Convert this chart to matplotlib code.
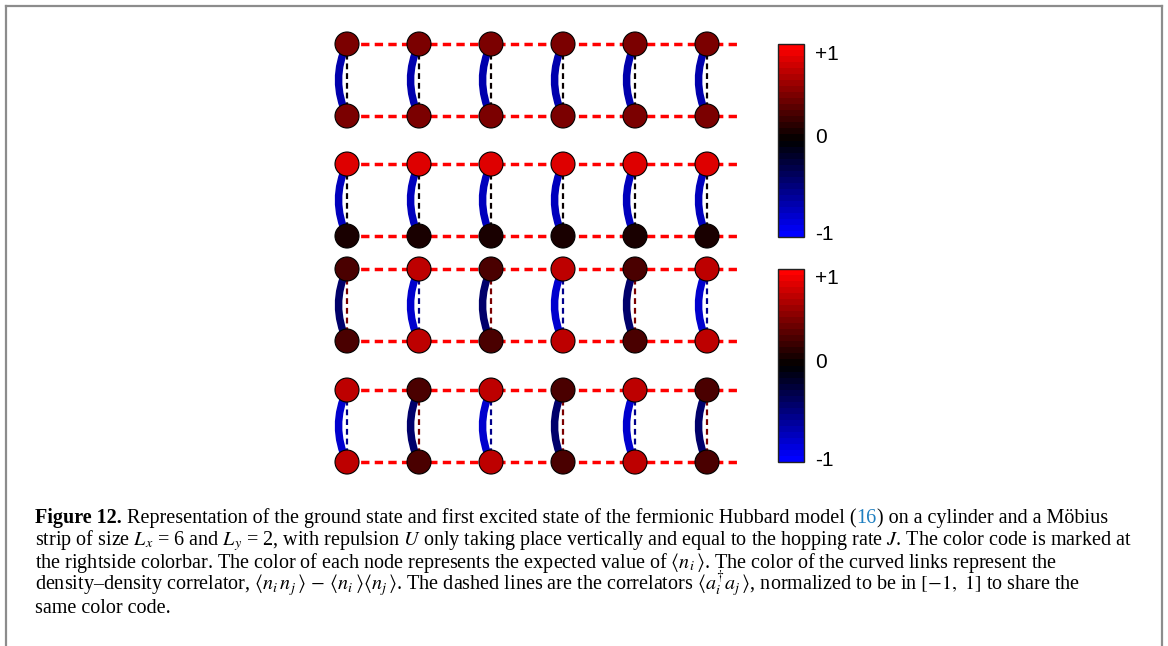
import numpy as np
import matplotlib
matplotlib.use('Agg')
import matplotlib.pyplot as plt
from matplotlib.colors import LinearSegmentedColormap, Normalize
from matplotlib.patches import Circle, PathPatch
from matplotlib.path import Path
from matplotlib.lines import Line2D
from matplotlib.cm import ScalarMappable
import matplotlib.transforms as mtransforms

plt.rcParams['mathtext.fontset'] = 'stix'
plt.rcParams['lines.scale_dashes'] = False

# ---------------- data ----------------
columns = [0, 1, 2, 3, 4, 5]

# panel 1: cylinder, ground state
p1_top = [0.48, 0.48, 0.48, 0.48, 0.48, 0.48]
p1_bottom = [0.48, 0.48, 0.48, 0.48, 0.48, 0.48]
p1_density = [-0.67, -0.67, -0.67, -0.67, -0.67, -0.67]
p1_hop_vert = [0.0, 0.0, 0.0, 0.0, 0.0, 0.0]
p1_hop_horiz = [1.0, 1.0]

# panel 2: cylinder, first excited state
p2_top = [0.86, 0.86, 0.86, 0.86, 0.86, 0.86]
p2_bottom = [0.1, 0.1, 0.1, 0.1, 0.1, 0.1]
p2_density = [-0.69, -0.69, -0.69, -0.69, -0.69, -0.69]
p2_hop_vert = [0.0, 0.0, 0.0, 0.0, 0.0, 0.0]
p2_hop_horiz = [1.0, 1.0]

# panel 3: Moebius, ground state
p3_top = [0.27, 0.72, 0.27, 0.72, 0.27, 0.72]
p3_bottom = [0.27, 0.72, 0.27, 0.72, 0.27, 0.72]
p3_density = [-0.4, -0.8, -0.4, -0.8, -0.4, -0.8]
p3_hop_vert = [0.49, -0.56, 0.49, -0.56, 0.49, -0.56]
p3_hop_horiz = [1.0, 1.0]

# panel 4: Moebius, first excited state
p4_top = [0.72, 0.27, 0.72, 0.27, 0.72, 0.27]
p4_bottom = [0.72, 0.27, 0.72, 0.27, 0.72, 0.27]
p4_density = [-0.8, -0.4, -0.8, -0.4, -0.8, -0.4]
p4_hop_vert = [-0.56, 0.49, -0.56, 0.49, -0.56, 0.49]
p4_hop_horiz = [1.0, 1.0]

cbar_ticks = [-1, 0, 1]
cbar_ticklabels = ['-1', '0', '+1']

# ---------------- layout ----------------
W, H, DPI = 1168, 646, 100
UNIT = 72.0            # pixels per lattice spacing
X0, Y0 = 347.0, 44.0   # pixel position of first node
panel_offsets = [0.0, 1.667, 3.125, 4.806]
panels = [
    (p1_top, p1_bottom, p1_density, p1_hop_vert, p1_hop_horiz),
    (p2_top, p2_bottom, p2_density, p2_hop_vert, p2_hop_horiz),
    (p3_top, p3_bottom, p3_density, p3_hop_vert, p3_hop_horiz),
    (p4_top, p4_bottom, p4_density, p4_hop_vert, p4_hop_horiz),
]

cmap = LinearSegmentedColormap.from_list('bkr', [(0, 0, 1), (0, 0, 0), (1, 0, 0)], N=32)
norm = Normalize(-1, 1)

fig = plt.figure(figsize=(W / DPI, H / DPI), dpi=DPI)
ax = fig.add_axes([0, 0, 1, 1])
ax.set_xlim(-X0 / UNIT, (W - X0) / UNIT)
ax.set_ylim((H - Y0) / UNIT, -Y0 / UNIT)
ax.set_aspect('equal')
ax.axis('off')

R = 12.0 / UNIT
SAG = 8.5 / UNIT
HEXT = 0.44

for off, (top, bottom, dens, hv, hh) in zip(panel_offsets, panels):
    yt, yb = off, off + 1.0
    # horizontal hopping links (dashed)
    for yrow, val in zip([yt, yb], hh):
        ax.plot([columns[0], columns[-1] + HEXT], [yrow, yrow], color=cmap(norm(val)),
                lw=2.5, dashes=(6.0, 3.8), zorder=1, solid_capstyle='butt', dash_capstyle='butt')
    for c in columns:
        # curved density-density link
        verts = [(c, yt), (c - 2 * SAG, (yt + yb) / 2), (c, yb)]
        path = Path(verts, [Path.MOVETO, Path.CURVE3, Path.CURVE3])
        ax.add_patch(PathPatch(path, fill=False, edgecolor=cmap(norm(dens[c])), lw=5.4,
                               capstyle='butt', zorder=2))
        # vertical hopping correlator (dashed)
        ax.plot([c, c], [yt, yb], color=cmap(norm(hv[c])), lw=1.6, dashes=(4.2, 2.8),
                zorder=3, dash_capstyle='butt')
        # nodes
        ax.add_patch(Circle((c, yt), R, facecolor=cmap(norm(top[c])), edgecolor='black',
                            lw=0.8, zorder=4))
        ax.add_patch(Circle((c, yb), R, facecolor=cmap(norm(bottom[c])), edgecolor='black',
                            lw=0.8, zorder=4))

# ---------------- colorbars ----------------
sm = ScalarMappable(norm=norm, cmap=cmap)
for top_px, bot_px in [(44, 237), (269, 462)]:
    cax = fig.add_axes([778 / W, 1 - bot_px / H, 26 / W, (bot_px - top_px) / H])
    cb = fig.colorbar(sm, cax=cax, ticks=cbar_ticks)
    cb.ax.set_yticklabels(cbar_ticklabels)
    cb.ax.tick_params(length=0, pad=8, labelsize=15)
    cb.outline.set_linewidth(1.0)
    cb.outline.set_edgecolor('#222222')
    shifts = [4, 5, -8]
    for lab, sh in zip(cb.ax.get_yticklabels(), shifts):
        lab.set_fontfamily('Liberation Sans')
        lab.set_transform(lab.get_transform() +
                          mtransforms.ScaledTranslation(0, sh / DPI, fig.dpi_scale_trans))

# ---------------- frame ----------------
fc = '#8c8c8c'
fig.add_artist(Line2D([5.5 / W, 5.5 / W], [0, 1 - 5.5 / H], color=fc, lw=1.6, transform=fig.transFigure))
fig.add_artist(Line2D([5.5 / W, 1162 / W], [1 - 5.5 / H, 1 - 5.5 / H], color=fc, lw=1.6, transform=fig.transFigure))
fig.add_artist(Line2D([1162 / W, 1162 / W], [0, 1 - 5.5 / H], color=fc, lw=1.6, transform=fig.transFigure))

# ---------------- caption ----------------
fig.canvas.draw()
renderer = fig.canvas.get_renderer()
FS = 14.5
CAP_X = 35
BASE = [523, 545.5, 568, 590.5, 613]


def draw_runs(x_px, y_px, runs):
    x = x_px
    for s, kw in runs:
        t = fig.text(x / W, 1 - y_px / H, s, ha='left', va='baseline', fontsize=FS,
                     family='Liberation Serif', **kw)
        bb = t.get_window_extent(renderer)
        x += bb.width


lines = [
    [('Figure 12.', dict(fontweight='bold')),
     (' Representation of the ground state and first excited state of the fermionic Hubbard model (', {}),
     ('16', dict(color='#1f7fc0')),
     (') on a cylinder and a M\u00f6bius', {})],
    [(r'strip of size $L_x$ = 6 and $L_y$ = 2, with repulsion $U$ only taking place vertically and equal to the hopping rate $J$. The color code is marked at', {})],
    [(r'the rightside colorbar. The color of each node represents the expected value of $\langle n_i\,\rangle$. The color of the curved links represent the', {})],
    [('density\u2013density correlator, ' + r'$\langle n_i\, n_j\,\rangle\, -\, \langle n_i\,\rangle\langle n_j\,\rangle$' +
      r'. The dashed lines are the correlators $\langle a_i^{\dagger} a_j\,\rangle$, normalized to be in $[-1,\ 1]$ to share the', {})],
    [('same color code.', {})],
]
for yb, runs in zip(BASE, lines):
    draw_runs(CAP_X, yb, runs)

fig.savefig('out.png', dpi=DPI)
